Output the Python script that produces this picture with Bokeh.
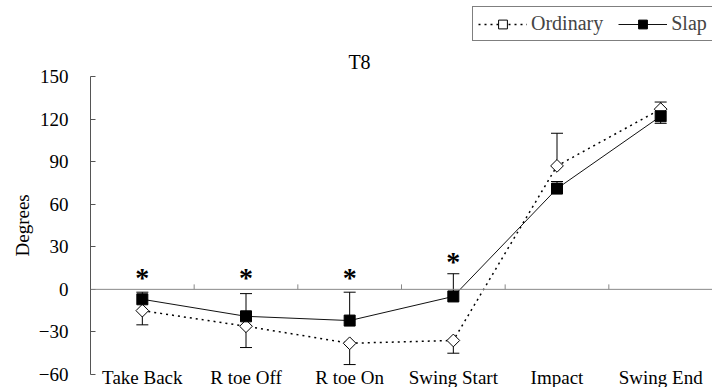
from bokeh.plotting import figure
from bokeh.models import (ColumnDataSource, FactorRange, Range1d, Span, Whisker,
                          TeeHead, Legend, LegendItem, FixedTicker, Label, Title)
from bokeh.transform import dodge
from bokeh.core.properties import value
from bokeh.embed import file_html
from bokeh.resources import INLINE
import math

# ---------------- data ----------------
phases = ["Take Back", "R toe Off", "R toe On", "Swing Start", "Impact", "Swing End"]
ordinary = [-15, -26, -38, -36, 87, 127]
ordinary_err = [-10, -15, -15, -9, 23, 5]      # signed: one-sided SD bar (down < 0, up > 0)
slap = [-7, -19, -22, -5, 71, 122]
slap_err = [5, 16, 20, 16, 5, -5]
significant = [True, True, True, True, False, False]
y_ticks = [-60, -30, 0, 30, 60, 90, 120, 150]
title_text = "T8"
y_label = "Degrees"

SERIF = "Liberation Serif"
W, H = 712, 387
LEFT = 90               # space for the value axis
AXIS_TOP, AXIS_BOTTOM = 76, 374   # pixel rows of the first and last value ticks
PX_PER_UNIT = (AXIS_BOTTOM - AXIS_TOP) / (y_ticks[-1] - y_ticks[0])
y_end = y_ticks[-1] + AXIS_TOP / PX_PER_UNIT
y_start = y_ticks[0] - (H - AXIS_BOTTOM) / PX_PER_UNIT

p = figure(frame_width=W - LEFT, frame_height=H,
           x_range=FactorRange(*phases, range_padding=0),
           y_range=Range1d(y_start, y_end),
           output_backend="svg", toolbar_location=None,
           min_border_left=LEFT, min_border_right=0, min_border_top=0,
           min_border_bottom=0, outline_line_color=None,
           background_fill_color="white", border_fill_color="white")
p.grid.visible = False
p.xaxis.visible = False

# y axis
ya = p.yaxis[0]
ya.ticker = FixedTicker(ticks=y_ticks)
ya.bounds = (y_ticks[0], y_ticks[-1])
ya.axis_line_color = "#555555"
ya.major_tick_line_color = "#555555"
ya.major_tick_in = 5
ya.major_tick_out = 0
ya.minor_tick_line_color = None
ya.major_label_standoff = 22
ya.major_label_text_font = SERIF
ya.major_label_text_font_size = "19px"
ya.major_label_text_color = "black"

# y-axis caption, centred on the -60..150 span of the axis
label_len = 62
p.add_layout(Title(text=y_label, align="left",
                   offset=(H - AXIS_BOTTOM) + (AXIS_BOTTOM - AXIS_TOP) / 2 - label_len / 2,
                   text_font=SERIF, text_font_size="19px", text_font_style="normal",
                   text_color="black", standoff=6), "left")

# chart title
p.add_layout(Label(x=269, y=H - 61, x_units="screen", y_units="screen",
                   text=title_text, text_align="center", text_baseline="alphabetic",
                   text_font=SERIF, text_font_size="20px", text_color="black"))

# category labels under the bottom of the value axis
p.text(x=phases, y=[y_ticks[0]] * len(phases), text=phases, text_align="center",
       text_baseline="top", y_offset=-8, text_font=value(SERIF),
       text_font_size="19px", text_color="black")

# zero line with category-boundary ticks
p.add_layout(Span(location=0, dimension="width", line_color="#888888", line_width=1))
tick_src = ColumnDataSource(dict(x=phases, y0=[0] * len(phases), y1=[3.5] * len(phases)))
p.segment(x0=dodge("x", 0.5, range=p.x_range), x1=dodge("x", 0.5, range=p.x_range),
          y0="y0", y1="y1", source=tick_src, line_color="#888888", line_width=1)


def add_errors(vals, errs):
    up = dict(x=[], lo=[], hi=[])
    dn = dict(x=[], lo=[], hi=[])
    for c, v, e in zip(phases, vals, errs):
        if e >= 0:
            up["x"].append(c); up["lo"].append(v); up["hi"].append(v + e)
        else:
            dn["x"].append(c); dn["lo"].append(v + e); dn["hi"].append(v)
    w1 = Whisker(source=ColumnDataSource(up), base="x", lower="lo", upper="hi",
                 line_color="black", line_width=1, lower_head=None,
                 upper_head=TeeHead(size=12, line_color="black", line_width=1))
    w2 = Whisker(source=ColumnDataSource(dn), base="x", lower="lo", upper="hi",
                 line_color="black", line_width=1, upper_head=None,
                 lower_head=TeeHead(size=12, line_color="black", line_width=1))
    p.add_layout(w1)
    p.add_layout(w2)


add_errors(ordinary, ordinary_err)
add_errors(slap, slap_err)

src = ColumnDataSource(dict(x=phases, o=ordinary, s=slap))
l_o = p.line("x", "o", source=src, line_color="black", line_width=1.5, line_dash="2 4")
m_o = p.scatter("x", "o", source=src, marker="square", angle=math.pi / 4, size=9,
                fill_color="white", line_color="black", line_width=1)
l_s = p.line("x", "s", source=src, line_color="#111111", line_width=1)
m_s = p.scatter("x", "s", source=src, marker="square", size=11,
                fill_color="black", line_color="black")

# significance asterisks above the highest bar at each phase
star_x, star_y = [], []
for c, sig, o, oe, s, se in zip(phases, significant, ordinary, ordinary_err, slap, slap_err):
    if sig:
        top = max(0, o, o + oe, s, s + se)
        star_x.append(c)
        star_y.append(top + 12)
p.text(x=star_x, y=star_y, text=["*"] * len(star_x), text_align="center",
       text_baseline="middle", y_offset=5, text_font=value(SERIF),
       text_font_size="28px", text_font_style="bold", text_color="black")

legend = Legend(items=[LegendItem(label="Ordinary", renderers=[l_o, m_o]),
                       LegendItem(label="Slap", renderers=[l_s, m_s])],
                orientation="horizontal", location=(472 - LEFT, H - 41),
                border_line_color="black", border_line_width=1,
                background_fill_color="white", background_fill_alpha=1,
                label_text_font=SERIF, label_text_font_size="20px",
                glyph_width=49, glyph_height=22, label_standoff=4, spacing=15,
                padding=5, margin=0)
p.add_layout(legend, "center")

open("out.html", "w").write(file_html(p, INLINE))
